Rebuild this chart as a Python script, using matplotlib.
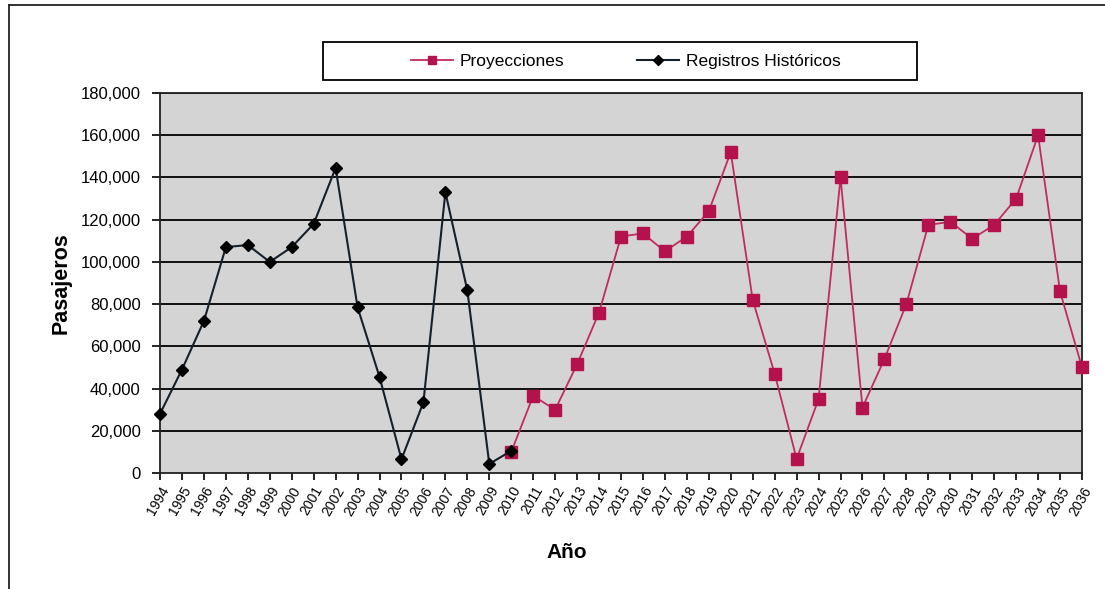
import numpy as np
import matplotlib.pyplot as plt
from matplotlib.lines import Line2D
from matplotlib.patches import Rectangle
from matplotlib.ticker import FuncFormatter

plt.rcParams['font.family'] = ['Liberation Sans', 'DejaVu Sans']

# Historical passenger records
years_hist = [1994, 1995, 1996, 1997, 1998, 1999, 2000, 2001, 2002, 2003,
              2004, 2005, 2006, 2007, 2008, 2009, 2010]
pax_hist = [28000, 49000, 72000, 107000, 108000, 100000, 107000, 118000, 144500,
            78500, 45500, 6500, 33500, 133000, 86500, 4300, 10500]

# Projected passengers
years_proj = list(range(2010, 2037))
pax_proj = [10000, 36500, 30000, 51500, 76000, 112000, 113500, 105000, 112000,
            124000, 152000, 82000, 47000, 6700, 35000, 140000, 31000, 54000,
            80000, 117500, 119000, 111000, 117500, 130000, 160000, 86000, 50000]

all_years = list(range(1994, 2037))
y_ticks = [0, 20000, 40000, 60000, 80000, 100000, 120000, 140000, 160000, 180000]

W, H = 1105, 589
fig = plt.figure(figsize=(W / 100, H / 100), dpi=100)
ax = fig.add_axes([160/W, 1 - 473/H, 922/W, 380/H])
ax.set_facecolor('#d4d4d4')

# horizontal gridlines
for yv in y_ticks[1:]:
    ax.axhline(yv, color='black', lw=1.3, zorder=1)

ax.plot(years_proj, pax_proj, color='#c02c5c', lw=1.3, marker='s', ms=8.5,
        mfc='#b3124c', mec='#b3124c', label='Proyecciones', zorder=3, clip_on=False)
ax.plot(years_hist, pax_hist, color='#15202a', lw=1.5, marker='D', ms=6,
        mfc='black', mec='black', label='Registros Históricos', zorder=4, clip_on=False)

ax.set_xlim(1994, 2036)
ax.set_ylim(0, 180000)
ax.set_xticks(all_years)
ax.set_xticklabels([str(y) for y in all_years], rotation=60, ha='right',
                   rotation_mode='anchor', fontsize=10)
ax.set_yticks(y_ticks)
ax.yaxis.set_major_formatter(FuncFormatter(lambda v, p: f'{int(v):,}'))
ax.tick_params(axis='y', labelsize=12, length=6, width=1.2, direction='out', pad=8)
ax.tick_params(axis='x', length=5, width=1.2, direction='out', pad=3)

for s in ax.spines.values():
    s.set_color('#222222')
    s.set_linewidth(1.3)

ax.set_ylabel('Pasajeros', fontsize=15.5, fontweight='bold', labelpad=6)
fig.text(567/W, 1 - 553/H, 'Año', fontsize=15, fontweight='bold',
         ha='center', va='center')

# legend box drawn separately so it can be wider than its entries
fig.add_artist(Rectangle((323/W, 1 - 80/H), 594/W, 38/H, transform=fig.transFigure,
                         fill=False, edgecolor='black', lw=1.3))
handles, labels = ax.get_legend_handles_labels()
leg = fig.legend(handles, labels, loc='center', ncol=2,
                 bbox_to_anchor=(626/W, 1 - 61/H), fontsize=12.5,
                 frameon=False, handlelength=2.4, handletextpad=0.4,
                 columnspacing=4.2)
leg.legend_handles[0].set_markersize(6)
leg.legend_handles[1].set_markersize(5)

# outer frame of the chart
fig.add_artist(Line2D([9/W, 1], [1 - 5/H, 1 - 5/H], color='#222222', lw=1.3,
                      transform=fig.transFigure))
fig.add_artist(Line2D([9/W, 9/W], [0, 1 - 5/H], color='#222222', lw=1.3,
                      transform=fig.transFigure))

fig.savefig('out.png', dpi=100)
